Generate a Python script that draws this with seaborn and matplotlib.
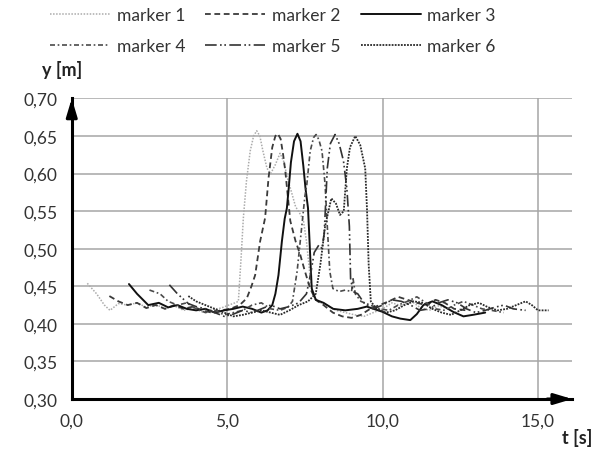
import matplotlib
matplotlib.use("Agg")
import matplotlib.pyplot as plt
import seaborn as sns
import pandas as pd

# ---- data: vertical position of six markers over time ----
labels = ["marker 1", "marker 2", "marker 3", "marker 4", "marker 5", "marker 6"]

t1 = [0.50, 0.80, 1.05, 1.23, 1.50, 1.80, 2.10, 2.40, 2.70, 3.00, 3.30, 3.60, 3.90, 4.20, 4.50, 4.80,
      5.05, 5.25, 5.36, 5.45, 5.52, 5.62, 5.74, 5.85, 5.95, 6.05, 6.15, 6.28, 6.40, 6.55, 6.70, 6.82,
      6.95, 7.05, 7.20, 7.35, 7.45, 7.55, 7.65, 7.75, 7.90, 8.20, 8.50, 8.80, 9.10, 9.40, 9.70, 10.00,
      10.30, 10.60, 10.90, 11.20, 11.50, 11.80, 12.10]
y1 = [0.454, 0.440, 0.425, 0.418, 0.427, 0.425, 0.428, 0.422, 0.426, 0.420, 0.424, 0.418, 0.421, 0.416, 0.419, 0.421,
      0.425, 0.428, 0.430, 0.490, 0.541, 0.590, 0.630, 0.650, 0.657, 0.650, 0.630, 0.607, 0.600, 0.612, 0.627, 0.616,
      0.592, 0.578, 0.556, 0.546, 0.538, 0.510, 0.470, 0.440, 0.430, 0.425, 0.418, 0.415, 0.412, 0.410, 0.415, 0.420,
      0.428, 0.424, 0.431, 0.422, 0.418, 0.424, 0.420]

t2 = [1.21, 1.50, 1.80, 2.10, 2.40, 2.70, 3.00, 3.30, 3.60, 3.90, 4.20, 4.50, 4.80, 5.10, 5.40, 5.63,
      5.78, 5.90, 6.06, 6.22, 6.33, 6.45, 6.55, 6.63, 6.72, 6.80, 6.87, 6.95, 7.03, 7.20, 7.35, 7.50,
      7.67, 7.85, 8.10, 8.40, 8.70, 9.00, 9.30, 9.60, 9.90, 10.20, 10.50, 10.80, 11.10, 11.40, 11.70,
      12.00, 12.30, 12.70]
y2 = [0.437, 0.430, 0.425, 0.428, 0.421, 0.425, 0.420, 0.425, 0.420, 0.423, 0.418, 0.415, 0.418, 0.420, 0.425, 0.434,
      0.450, 0.465, 0.510, 0.541, 0.594, 0.635, 0.650, 0.653, 0.646, 0.625, 0.603, 0.570, 0.537, 0.510, 0.492, 0.470,
      0.447, 0.432, 0.425, 0.415, 0.410, 0.408, 0.412, 0.420, 0.425, 0.430, 0.436, 0.432, 0.428, 0.425, 0.432,
      0.428, 0.420, 0.418]

t3 = [1.84, 2.10, 2.46, 2.80, 3.10, 3.40, 3.70, 4.00, 4.30, 4.60, 4.90, 5.20, 5.50, 5.80, 6.10, 6.30,
      6.45, 6.55, 6.65, 6.76, 6.85, 6.92, 6.98, 7.05, 7.15, 7.26, 7.36, 7.45, 7.52, 7.60, 7.66, 7.72,
      7.85, 8.10, 8.41, 8.80, 9.20, 9.49, 10.00, 10.30, 10.57, 10.89, 11.10, 11.31, 11.60, 11.90,
      12.27, 12.60, 12.90, 13.30]
y3 = [0.453, 0.440, 0.425, 0.428, 0.422, 0.425, 0.420, 0.418, 0.420, 0.415, 0.418, 0.420, 0.423, 0.420, 0.415, 0.418,
      0.425, 0.440, 0.465, 0.510, 0.540, 0.554, 0.581, 0.615, 0.643, 0.653, 0.643, 0.610, 0.580, 0.554, 0.500, 0.447,
      0.432, 0.428, 0.420, 0.418, 0.420, 0.423, 0.416, 0.410, 0.407, 0.405, 0.413, 0.425, 0.430, 0.425,
      0.416, 0.410, 0.412, 0.415]

t4 = [2.50, 2.84, 3.10, 3.40, 3.70, 4.00, 4.30, 4.60, 4.90, 5.20, 5.50, 5.80, 6.10, 6.40, 6.70, 6.95,
      7.10, 7.25, 7.40, 7.50, 7.56, 7.67, 7.78, 7.86, 7.95, 8.05, 8.15, 8.22, 8.30, 8.40, 8.60, 8.80,
      9.00, 9.05, 9.12, 9.30, 9.60, 9.90, 10.20, 10.50, 10.80, 11.10, 11.40, 11.70, 12.00, 12.30,
      12.60, 12.90, 13.20, 13.50, 13.90]
y4 = [0.445, 0.440, 0.430, 0.425, 0.428, 0.420, 0.415, 0.418, 0.412, 0.415, 0.418, 0.425, 0.428, 0.420, 0.418, 0.422,
      0.430, 0.470, 0.530, 0.570, 0.585, 0.630, 0.648, 0.652, 0.645, 0.630, 0.585, 0.530, 0.470, 0.447, 0.443, 0.445,
      0.443, 0.460, 0.440, 0.430, 0.425, 0.420, 0.418, 0.425, 0.430, 0.436, 0.428, 0.420, 0.418, 0.425,
      0.430, 0.425, 0.420, 0.418, 0.415]

t5 = [3.14, 3.40, 3.75, 4.00, 4.30, 4.60, 4.90, 5.20, 5.50, 5.80, 6.10, 6.40, 6.70, 7.00, 7.30, 7.55,
      7.70, 7.80, 7.95, 8.05, 8.12, 8.16, 8.22, 8.32, 8.47, 8.60, 8.74, 8.85, 8.93, 8.97, 9.05, 9.20,
      9.40, 9.70, 10.00, 10.30, 10.60, 10.90, 11.20, 11.50, 11.80, 12.10, 12.40, 12.70, 13.00, 13.30,
      13.60, 13.90, 14.20, 14.60]
y5 = [0.452, 0.440, 0.427, 0.423, 0.420, 0.415, 0.410, 0.413, 0.418, 0.415, 0.420, 0.425, 0.420, 0.423, 0.428, 0.440,
      0.470, 0.495, 0.505, 0.500, 0.520, 0.554, 0.607, 0.640, 0.652, 0.640, 0.617, 0.580, 0.530, 0.460, 0.443, 0.440,
      0.428, 0.420, 0.425, 0.432, 0.430, 0.425, 0.418, 0.420, 0.428, 0.432, 0.428, 0.420, 0.415, 0.418,
      0.422, 0.425, 0.420, 0.418]

t6 = [3.75, 4.00, 4.30, 4.60, 4.90, 5.20, 5.50, 5.80, 6.10, 6.40, 6.70, 7.00, 7.30, 7.60, 7.85, 8.00,
      8.15, 8.35, 8.50, 8.63, 8.75, 8.85, 8.95, 9.12, 9.28, 9.44, 9.50, 9.55, 9.62, 9.80, 10.10, 10.40,
      10.70, 11.00, 11.30, 11.60, 11.90, 12.20, 12.50, 12.80, 13.10, 13.40, 13.70, 14.00, 14.30, 14.60,
      14.80, 15.00, 15.34]
y6 = [0.437, 0.430, 0.425, 0.420, 0.415, 0.410, 0.412, 0.415, 0.418, 0.415, 0.412, 0.418, 0.425, 0.430, 0.440, 0.480,
      0.530, 0.567, 0.560, 0.545, 0.550, 0.607, 0.635, 0.650, 0.638, 0.607, 0.550, 0.480, 0.430, 0.420, 0.415, 0.418,
      0.425, 0.430, 0.428, 0.420, 0.415, 0.412, 0.418, 0.425, 0.428, 0.422, 0.418, 0.420, 0.425, 0.430,
      0.425, 0.418, 0.418]

x_ticks = [0, 5, 10, 15]
x_tick_labels = ["0,0", "5,0", "10,0", "15,0"]
y_ticks = [0.30, 0.35, 0.40, 0.45, 0.50, 0.55, 0.60, 0.65, 0.70]
y_tick_labels = ["0,30", "0,35", "0,40", "0,45", "0,50", "0,55", "0,60", "0,65", "0,70"]

series = [(t1, y1), (t2, y2), (t3, y3), (t4, y4), (t5, y5), (t6, y6)]

# ---- styling ----
sns.set_style("white")
plt.rcParams["font.family"] = ["Lato", "DejaVu Sans"]

colors = ["#ababab", "#3a3a3a", "#111111", "#4a4a4a", "#333333", "#2a2a2a"]
styles = [(0, (1, 1)), (0, (3.2, 2)), "-", (0, (3, 1.6, 1, 1.6)),
          (0, (7, 2, 1, 1.6, 1, 2)), (0, (1, 0.7))]
widths = [1.1, 1.3, 1.4, 1.2, 1.2, 1.3]

fig = plt.figure(figsize=(6.03, 4.52), dpi=100)
ax = fig.add_axes([0.119, 0.115, 0.830, 0.665])

frames = []
for lab, (tt, yy) in zip(labels, series):
    frames.append(pd.DataFrame({"t": tt, "y": yy, "marker": lab}))
df = pd.concat(frames, ignore_index=True)

for i, lab in enumerate(labels):
    sub = df[df["marker"] == lab]
    sns.lineplot(data=sub, x="t", y="y", ax=ax, color=colors[i], linestyle=styles[i],
                 lw=widths[i], label=lab, sort=False, estimator=None, zorder=3)

ax.set_xlim(0, 16.1)
ax.set_ylim(0.30, 0.70)
ax.set_xticks(x_ticks)
ax.set_xticklabels(x_tick_labels)
ax.set_yticks(y_ticks)
ax.set_yticklabels(y_tick_labels)
ax.set_xlabel("")
ax.set_ylabel("")

ax.grid(True, color="#a6a6a6", lw=1.1)
ax.set_axisbelow(True)
for s in ["top", "right"]:
    ax.spines[s].set_visible(False)
for s in ["left", "bottom"]:
    ax.spines[s].set_color("black")
    ax.spines[s].set_linewidth(2.2)
    ax.spines[s].set_zorder(5)

ax.tick_params(axis="both", direction="out", length=6, width=1.8, color="black",
               labelsize=12.5, labelcolor="#333333", pad=4)

# arrow heads at the ends of both axes
head = "-|>,head_length=0.6,head_width=0.18"
ax.annotate("", xy=(1.0, 0), xytext=(0.95, 0), xycoords="axes fraction",
            arrowprops=dict(arrowstyle=head, lw=2.2, color="black", mutation_scale=18,
                            shrinkA=0, shrinkB=0), annotation_clip=False, zorder=6)
ax.annotate("", xy=(0, 1.0), xytext=(0, 0.94), xycoords="axes fraction",
            arrowprops=dict(arrowstyle=head, lw=2.2, color="black", mutation_scale=18,
                            shrinkA=0, shrinkB=0), annotation_clip=False, zorder=6)

fig.text(42 / 603, 1 - 70 / 452, "y [m]", fontsize=13, fontweight="bold",
         color="#222222", ha="left", va="center")
fig.text(562 / 603, 1 - 438 / 452, "t [s]", fontsize=13, fontweight="bold",
         color="#222222", ha="left", va="center")

# legend laid out row-wise: 1 2 3 / 4 5 6
handles, labs = ax.get_legend_handles_labels()
order = [0, 3, 1, 4, 2, 5]
ax.legend([handles[k] for k in order], [labs[k] for k in order], ncol=3,
          loc="upper left", bbox_to_anchor=(50 / 603, 1 - 8 / 452), bbox_transform=fig.transFigure,
          frameon=False, fontsize=12.5, handlelength=3.45, handletextpad=0.4,
          columnspacing=1.15, labelspacing=0.85, borderaxespad=0, borderpad=0,
          labelcolor="#333333")

fig.savefig("out.png", dpi=100)
